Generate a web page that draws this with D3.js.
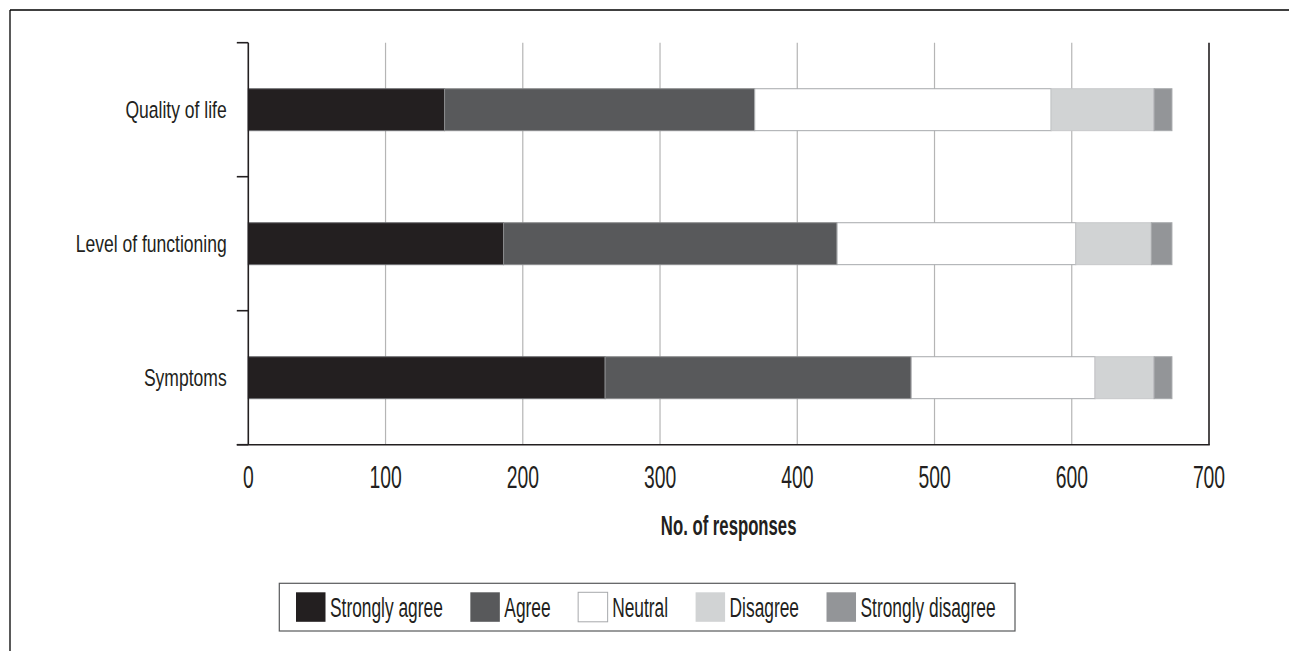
<!DOCTYPE html>
<html>
<head>
<meta charset="utf-8">
<script src="https://cdn.jsdelivr.net/npm/d3@7"></script>
<style>
  html, body { margin: 0; padding: 0; background: #fff; }
  svg { display: block; }
  text { font-family: "Liberation Sans", Arial, sans-serif; fill: #231f20; }
</style>
</head>
<body>
<svg id="chart" width="1289" height="651"></svg>
<script>
// ---- data ----
const categories = ["Quality of life", "Level of functioning", "Symptoms"];
const seriesNames = ["Strongly agree", "Agree", "Neutral", "Disagree", "Strongly disagree"];
const stronglyAgree    = [143, 186, 260];
const agree            = [226, 243, 223];
const neutral          = [216, 174, 134];
const disagree         = [75, 55, 43];
const stronglyDisagree = [13, 15, 13];
const xTicks = [0, 100, 200, 300, 400, 500, 600, 700];
const xTitle = "No. of responses";

(function draw() {
  const seriesValues = [stronglyAgree, agree, neutral, disagree, stronglyDisagree];
  const colors = ["#231f20", "#58595b", "#ffffff", "#d1d3d4", "#939598"];
  const strokes = ["#6d6e71", "#8a8b8d", "#a7a9ac", "#c7c8ca", "#a7a9ac"];

  const svg = d3.select("#chart");

  // outer frame (top and left only)
  svg.append("line").attr("x1", 10).attr("y1", 10).attr("x2", 1289).attr("y2", 10)
    .attr("stroke", "#000").attr("stroke-width", 1.3);
  svg.append("line").attr("x1", 10).attr("y1", 10).attr("x2", 10).attr("y2", 651)
    .attr("stroke", "#000").attr("stroke-width", 1.3);

  const pLeft = 248.3, pRight = 1209, pTop = 42.7, pBottom = 444.7;

  const x = d3.scaleLinear().domain([0, 700]).range([pLeft, pRight]);
  const y = d3.scaleBand().domain(categories).range([pTop, pBottom])
    .paddingInner(0.687).paddingOuter(0.3435);

  // table for stacking
  const table = categories.map((c, i) => {
    const row = { category: c };
    seriesNames.forEach((s, k) => row[s] = seriesValues[k][i]);
    return row;
  });
  const stacked = d3.stack().keys(seriesNames)(table);

  // gridlines
  svg.append("g").selectAll("line")
    .data(xTicks.filter(t => t > 0 && t < 700))
    .join("line")
    .attr("x1", d => x(d)).attr("x2", d => x(d))
    .attr("y1", pTop).attr("y2", pBottom)
    .attr("stroke", "#b5b5b5").attr("stroke-width", 1.2);

  // bars
  svg.append("g").selectAll("g")
    .data(stacked)
    .join("g")
    .attr("fill", (d, i) => colors[i])
    .attr("stroke", (d, i) => strokes[i])
    .attr("stroke-width", 1)
    .selectAll("rect")
    .data(d => d)
    .join("rect")
    .attr("x", d => x(d[0]))
    .attr("width", d => x(d[1]) - x(d[0]))
    .attr("y", d => y(d.data.category))
    .attr("height", y.bandwidth());

  // axes lines
  const axisColor = "#231f20";
  svg.append("line").attr("x1", pLeft).attr("x2", pLeft).attr("y1", pTop).attr("y2", pBottom)
    .attr("stroke", axisColor).attr("stroke-width", 1.6);
  svg.append("line").attr("x1", pRight).attr("x2", pRight).attr("y1", pTop).attr("y2", pBottom)
    .attr("stroke", axisColor).attr("stroke-width", 1.6);
  svg.append("line").attr("x1", pLeft - 11.5).attr("x2", pRight + 0.8).attr("y1", pBottom).attr("y2", pBottom)
    .attr("stroke", axisColor).attr("stroke-width", 1.6);

  // y ticks at band boundaries
  const yBoundaries = d3.range(categories.length + 1).map(i => pTop + i * y.step());
  svg.append("g").selectAll("line")
    .data(yBoundaries)
    .join("line")
    .attr("x1", pLeft - 11.5).attr("x2", pLeft)
    .attr("y1", d => d).attr("y2", d => d)
    .attr("stroke", axisColor).attr("stroke-width", 1.6);

  // y labels
  svg.append("g").selectAll("text")
    .data(categories)
    .join("text")
    .attr("transform", d => `translate(${pLeft - 21.6},${y(d) + y.bandwidth() / 2 + 8.5}) scale(0.71,1)`)
    .attr("text-anchor", "end")
    .attr("font-size", 24.7)
    .text(d => d);

  // x tick labels
  svg.append("g").selectAll("text")
    .data(xTicks)
    .join("text")
    .attr("transform", d => `translate(${x(d)},${488.3}) scale(0.63,1)`)
    .attr("text-anchor", "middle")
    .attr("font-size", 30.7)
    .text(d => d);

  // x title
  svg.append("text")
    .attr("transform", `translate(${(pLeft + pRight) / 2},${535}) scale(0.61,1)`)
    .attr("text-anchor", "middle")
    .attr("font-size", 27.4)
    .attr("font-weight", "bold")
    .text(xTitle);

  // legend
  const lg = svg.append("g");
  lg.append("rect").attr("x", 279.3).attr("y", 583.3).attr("width", 1015 - 279.3).attr("height", 631 - 583.3)
    .attr("fill", "#fff").attr("stroke", "#58595b").attr("stroke-width", 1.2);
  let cursor = 296;
  const legendScale = 0.62;
  seriesNames.forEach((name, i) => {
    lg.append("rect").attr("x", cursor).attr("y", 592.3).attr("width", 29.5).attr("height", 29.5)
      .attr("fill", colors[i]).attr("stroke", i === 2 ? "#a7a9ac" : "none").attr("stroke-width", 1);
    const t = lg.append("text")
      .attr("transform", `translate(${cursor + 34},${617.3}) scale(${legendScale},1)`)
      .attr("font-size", 28)
      .text(name);
    const w = t.node().getComputedTextLength() * legendScale;
    cursor = cursor + 34 + w + 27.5;
  });
})();
</script>
</body>
</html>
